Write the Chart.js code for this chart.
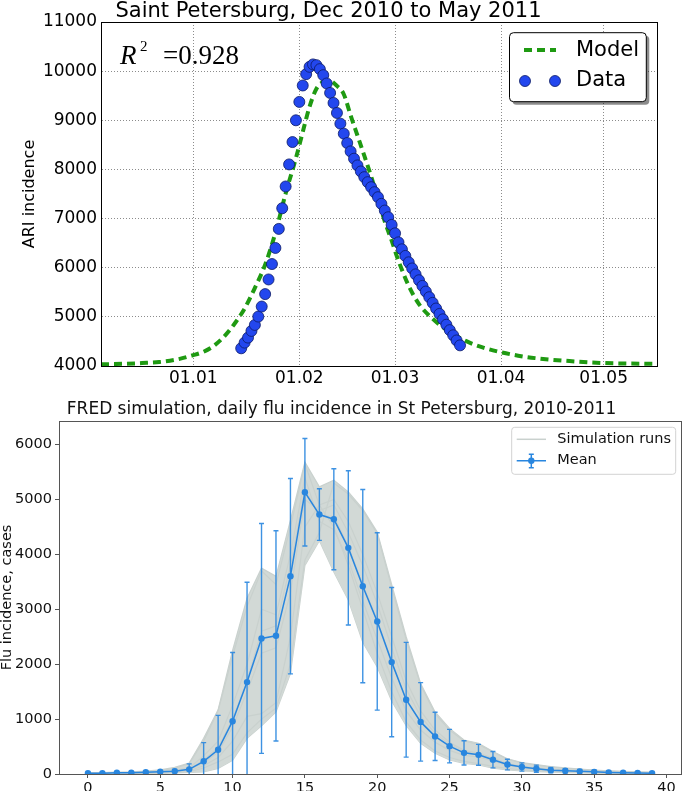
<!DOCTYPE html>
<html lang="en">
<head>
<meta charset="utf-8">
<title>ARI / FRED</title>
<script src="https://cdn.jsdelivr.net/npm/chart.js@4.4.1/dist/chart.umd.min.js"></script>
<style>
  body { margin: 0; background: #fff; }
  canvas { position: absolute; left: 0; }
  #grafico-topo { top: 0; }
  #grafico-fred { top: 388px; }
</style>
</head>
<body>
<canvas id="grafico-topo" width="685" height="388"></canvas>
<canvas id="grafico-fred" width="685" height="403"></canvas>
<script>
// ---- painel de cima (dias contados a partir de 01.01.2011) ----
const diasTicks = [0, 31, 59, 90, 120];
const rotulosDatas = ['01.01', '01.02', '01.03', '01.04', '01.05'];

const modeloDias = [-27, -20, -15, -10, -5, 0, 3, 6, 9, 12, 15, 18, 21, 24, 27, 30, 32, 34, 36, 38, 40, 42, 44, 46, 48,
  50, 52, 54, 56, 58, 60, 63, 66, 70, 75, 80, 85, 90, 95, 100, 110, 120, 135.6];
const modeloValores = [4035, 4045, 4060, 4080, 4130, 4220, 4290, 4410, 4600, 4855, 5170, 5590, 6060, 6710, 7510, 8230, 8760, 9280, 9640, 9780, 9800, 9700, 9530, 9100, 8690,
  8280, 7860, 7400, 6940, 6550, 6140, 5630, 5260, 4960, 4690, 4500, 4370, 4280, 4210, 4160, 4100, 4060, 4045];

const dadosDiaInicial = 14; // primeiro ponto observado, um por dia
const dadosValores = [4360, 4476, 4578, 4714, 4836, 5006, 5210, 5463, 5761, 6075, 6402, 6790, 7210, 7653, 8102, 8557,
  9000, 9374, 9708, 9939, 10088, 10137, 10122, 10041, 9918, 9749, 9557, 9353, 9149, 8932, 8728, 8537, 8367, 8218,
  8082, 7959, 7843, 7741, 7639, 7537, 7435, 7300, 7163, 7027, 6871, 6700, 6516, 6375, 6240, 6110, 5985, 5865, 5745,
  5630, 5515, 5400, 5285, 5170, 5060, 4950, 4840, 4730, 4625, 4520, 4420];

// ---- painel de baixo: simulacao FRED ----
const dias = [0, 1, 2, 3, 4, 5, 6, 7, 8, 9, 10, 11, 12, 13, 14, 15, 16, 17, 18, 19,
  20, 21, 22, 23, 24, 25, 26, 27, 28, 29, 30, 31, 32, 33, 34, 35, 36, 37, 38, 39];
const ticksCasos = [0, 1000, 2000, 3000, 4000, 5000, 6000];
const mediaCasos = [13, 13, 24, 24, 33, 42, 52, 85, 231, 442, 962, 1674, 2469, 2517, 3603, 5132, 4726, 4641, 4119, 3421,
  2779, 2038, 1353, 949, 685, 507, 385, 349, 261, 173, 127, 97, 70, 58, 48, 39, 28, 22, 18, 15];
const erroCasos = [8, 8, 10, 10, 14, 20, 30, 100, 340, 625, 1250, 1820, 2093, 1915, 1780, 980, 470, 920, 1405, 1760,
  1615, 1360, 1045, 715, 440, 305, 220, 190, 150, 97, 75, 65, 50, 40, 35, 30, 20, 15, 12, 10];

// faixa ocupada pelas rodadas (envelope)
const rodadasMax = [25, 25, 35, 40, 55, 75, 120, 200, 650, 1170, 2250, 3200, 3750, 3600, 4620, 5680, 5230, 5350, 5140, 4830,
  4410, 3450, 2500, 1650, 1130, 830, 620, 560, 410, 275, 210, 170, 135, 110, 90, 72, 58, 48, 40, 32];
const rodadasMin = [0, 0, 5, 5, 8, 12, 18, 28, 40, 100, 250, 650, 880, 1130, 1830, 3800, 4250, 3680, 3170, 2400,
  1950, 1330, 880, 560, 380, 255, 195, 165, 105, 73, 55, 45, 35, 25, 20, 15, 10, 8, 5, 5];
// algumas rodadas individuais
const rodadaCedo = [15, 18, 25, 30, 45, 60, 100, 190, 600, 1150, 2150, 3050, 3700, 3450, 4500, 5650, 4900, 4500, 3800, 3000,
  2200, 1500, 950, 620, 420, 300, 230, 190, 140, 100, 75, 60, 48, 38, 30, 24, 18, 14, 10, 8];
const rodadaTarde = [0, 3, 6, 8, 12, 20, 30, 45, 110, 220, 360, 750, 1000, 1200, 2000, 3900, 4400, 5300, 5100, 4800,
  4380, 3400, 2450, 1620, 1100, 800, 600, 540, 400, 270, 200, 160, 125, 100, 85, 68, 55, 45, 36, 30];
const rodadaMeio1 = [8, 10, 15, 20, 28, 40, 55, 90, 260, 480, 1000, 1700, 2600, 2700, 3800, 5200, 4700, 4700, 4150, 3450,
  2800, 2050, 1350, 940, 680, 500, 390, 350, 270, 175, 130, 100, 78, 65, 52, 42, 32, 25, 20, 15];
const rodadaMeio2 = [5, 8, 12, 18, 25, 35, 50, 80, 200, 400, 850, 1500, 2200, 2300, 3300, 5000, 4800, 4900, 4400, 3800,
  3100, 2300, 1550, 1050, 740, 540, 410, 360, 280, 180, 135, 105, 82, 68, 55, 44, 34, 26, 20, 16];
const rodadaMeio3 = [10, 12, 18, 24, 32, 45, 65, 110, 330, 600, 1250, 2000, 3000, 2900, 4000, 5400, 4600, 4450, 3900, 3150,
  2450, 1750, 1150, 800, 580, 430, 340, 310, 240, 150, 115, 90, 70, 58, 46, 36, 28, 22, 17, 13];
const rodadaBaixa = [3, 5, 8, 12, 18, 25, 40, 60, 150, 300, 600, 1050, 1100, 1300, 2500, 4500, 4900, 5000, 4600, 4000,
  3300, 2500, 1700, 1150, 800, 580, 430, 380, 290, 190, 140, 110, 85, 70, 56, 45, 35, 27, 21, 17];

const fonte = 'DejaVu Sans';
const corVerde = '#1f9a12';
const corAzul = '#2347ee';
const corMedia = '#2886df';
const corRodada = '#c9d1ce';

Chart.defaults.font.family = fonte;

function pares(xs, ys) {
  return ys.map((v, i) => ({ x: xs[i], y: v }));
}

// moldura em volta da area do grafico
const moldura = {
  id: 'moldura',
  afterDraw(chart, args, opts) {
    const { ctx, chartArea: a } = chart;
    ctx.save();
    ctx.strokeStyle = opts.cor;
    ctx.lineWidth = 1;
    ctx.strokeRect(a.left + 0.5, a.top + 0.5, a.right - a.left, a.bottom - a.top);
    ctx.restore();
  }
};

// texto R^2 e legenda do painel de cima
const extrasTopo = {
  id: 'extrasTopo',
  afterDraw(chart) {
    const { ctx, chartArea: a } = chart;
    ctx.save();
    ctx.fillStyle = '#000';
    ctx.textBaseline = 'alphabetic';
    ctx.font = 'italic 27px "Liberation Serif"';
    ctx.fillText('R', a.left + 19, a.top + 42);
    ctx.font = '15px "Liberation Serif"';
    ctx.fillText('2', a.left + 39, a.top + 29);
    ctx.font = '27px "Liberation Serif"';
    ctx.fillText('=0.928', a.left + 62, a.top + 42);

    // caixa da legenda com sombra
    const bx = 509.5, by = 32.7, bw = 136.8, bh = 69;
    ctx.fillStyle = 'rgba(0,0,0,0.45)';
    ctx.beginPath();
    ctx.roundRect(bx + 3, by + 3, bw, bh, 4);
    ctx.fill();
    ctx.fillStyle = '#fff';
    ctx.strokeStyle = '#000';
    ctx.lineWidth = 1;
    ctx.beginPath();
    ctx.roundRect(bx, by, bw, bh, 4);
    ctx.fill();
    ctx.stroke();

    ctx.strokeStyle = corVerde;
    ctx.lineWidth = 4;
    ctx.setLineDash([8, 5]);
    ctx.beginPath();
    ctx.moveTo(524, 50);
    ctx.lineTo(556, 50);
    ctx.stroke();
    ctx.setLineDash([]);

    ctx.fillStyle = corAzul;
    ctx.strokeStyle = '#0b1a66';
    ctx.lineWidth = 0.8;
    [525, 555].forEach(x => {
      ctx.beginPath();
      ctx.arc(x, 81, 5.5, 0, Math.PI * 2);
      ctx.fill();
      ctx.stroke();
    });

    ctx.fillStyle = '#000';
    ctx.font = '21px "' + fonte + '"';
    ctx.textBaseline = 'middle';
    ctx.fillText('Model', 576, 51);
    ctx.fillText('Data', 576, 81);
    ctx.restore();
  }
};

// barras de erro da media, desenhadas com as escalas do grafico
const barrasErro = {
  id: 'barrasErro',
  beforeDatasetDraw(chart, args) {
    const ds = chart.data.datasets[args.index];
    if (!ds.erros) return;
    const { ctx, chartArea: a, scales: { x, y } } = chart;
    ctx.save();
    ctx.beginPath();
    ctx.rect(a.left, a.top, a.right - a.left, a.bottom - a.top);
    ctx.clip();
    ctx.strokeStyle = 'rgba(40,134,223,0.9)';
    ctx.lineWidth = 1.4;
    ds.data.forEach((p, i) => {
      const e = ds.erros[i];
      const px = x.getPixelForValue(p.x);
      const yTop = y.getPixelForValue(p.y + e);
      const yBot = y.getPixelForValue(p.y - e);
      ctx.beginPath();
      ctx.moveTo(px, yTop); ctx.lineTo(px, yBot);
      ctx.moveTo(px - 2.5, yTop); ctx.lineTo(px + 2.5, yTop);
      ctx.moveTo(px - 2.5, yBot); ctx.lineTo(px + 2.5, yBot);
      ctx.stroke();
    });
    ctx.restore();
  }
};

// legenda do painel de baixo
const legendaFred = {
  id: 'legendaFred',
  afterDraw(chart) {
    const { ctx } = chart;
    const bx = 511.7, by = 39.3, bw = 164, bh = 47;
    ctx.save();
    ctx.fillStyle = 'rgba(255,255,255,0.85)';
    ctx.strokeStyle = '#d2d2d2';
    ctx.lineWidth = 1;
    ctx.beginPath();
    ctx.roundRect(bx, by, bw, bh, 3);
    ctx.fill();
    ctx.stroke();

    ctx.strokeStyle = corRodada;
    ctx.lineWidth = 1.5;
    ctx.beginPath();
    ctx.moveTo(516.7, 51.3); ctx.lineTo(546, 51.3);
    ctx.stroke();

    ctx.strokeStyle = corMedia;
    ctx.fillStyle = corMedia;
    ctx.beginPath();
    ctx.moveTo(516.7, 72.7); ctx.lineTo(546, 72.7);
    ctx.moveTo(531.3, 66.3); ctx.lineTo(531.3, 79.7);
    ctx.moveTo(528.8, 66.3); ctx.lineTo(533.8, 66.3);
    ctx.moveTo(528.8, 79.7); ctx.lineTo(533.8, 79.7);
    ctx.stroke();
    ctx.beginPath();
    ctx.arc(531.3, 72.7, 3.2, 0, Math.PI * 2);
    ctx.fill();

    ctx.fillStyle = '#111';
    ctx.font = '14.5px "' + fonte + '"';
    ctx.textBaseline = 'middle';
    ctx.fillText('Simulation runs', 557.3, 51.3);
    ctx.fillText('Mean', 557.3, 72.7);
    ctx.restore();
  }
};

// ---------- grafico de cima ----------
const pontosDados = dadosValores.map((v, i) => ({ x: dadosDiaInicial + i, y: v }));

new Chart(document.getElementById('grafico-topo'), {
  type: 'scatter',
  data: {
    datasets: [
      {
        label: 'Data',
        data: pontosDados,
        showLine: false,
        pointRadius: 5.5,
        pointBackgroundColor: corAzul,
        pointBorderColor: '#0b1a66',
        pointBorderWidth: 0.8,
        order: 1
      },
      {
        label: 'Model',
        data: pares(modeloDias, modeloValores),
        showLine: true,
        borderColor: corVerde,
        borderWidth: 4,
        borderDash: [8, 5],
        pointRadius: 0,
        cubicInterpolationMode: 'monotone',
        order: 2
      }
    ]
  },
  options: {
    responsive: false,
    animation: false,
    layout: { padding: { left: 0, top: 0, right: 28, bottom: 0 } },
    plugins: {
      legend: { display: false },
      tooltip: { enabled: false },
      title: {
        display: true,
        text: 'Saint Petersburg, Dec 2010 to May 2011',
        color: '#000',
        font: { size: 21, weight: 'normal', lineHeight: 1 },
        padding: { top: 1, bottom: 0 }
      },
      moldura: { cor: '#000' }
    },
    scales: {
      x: {
        type: 'linear',
        min: -27,
        max: 135.6,
        afterBuildTicks: s => { s.ticks = diasTicks.map(v => ({ value: v })); },
        afterFit: s => { s.height = 22; },
        ticks: {
          callback: (v, i) => rotulosDatas[i],
          color: '#000',
          font: { size: 17 },
          padding: 2,
          maxRotation: 0,
          autoSkip: false
        },
        grid: { color: 'rgba(0,0,0,0.45)', lineWidth: 1, drawTicks: false },
        border: { display: true, color: '#000', dash: [1, 2] }
      },
      y: {
        min: 4000,
        max: 11000,
        afterFit: s => { s.width = 101; },
        ticks: { stepSize: 1000, color: '#000', font: { size: 17 }, padding: 4, callback: v => String(v) },
        grid: { color: 'rgba(0,0,0,0.45)', lineWidth: 1, drawTicks: false },
        border: { display: true, color: '#000', dash: [1, 2] },
        title: {
          display: true,
          text: 'ARI incidence',
          color: '#000',
          font: { size: 16, lineHeight: 1 },
          padding: { top: 22, bottom: 0 }
        }
      }
    }
  },
  plugins: [moldura, extrasTopo]
});

// ---------- grafico de baixo ----------
function rodada(valores) {
  return {
    data: pares(dias, valores),
    showLine: true,
    borderColor: corRodada,
    borderWidth: 1.2,
    pointRadius: 0,
    order: 5
  };
}

new Chart(document.getElementById('grafico-fred'), {
  type: 'scatter',
  data: {
    datasets: [
      { data: pares(dias, rodadasMin), showLine: true, borderColor: corRodada, borderWidth: 1.2, pointRadius: 0, order: 8 },
      {
        data: pares(dias, rodadasMax), showLine: true, borderColor: corRodada, borderWidth: 1.2, pointRadius: 0,
        fill: '-1', backgroundColor: '#d2d9d6', order: 7
      },
      rodada(rodadaCedo),
      rodada(rodadaTarde),
      rodada(rodadaMeio1),
      rodada(rodadaMeio2),
      rodada(rodadaMeio3),
      rodada(rodadaBaixa),
      {
        label: 'Mean',
        data: pares(dias, mediaCasos),
        erros: erroCasos,
        showLine: true,
        borderColor: corMedia,
        borderWidth: 1.5,
        pointRadius: 3.2,
        pointBackgroundColor: corMedia,
        pointBorderColor: corMedia,
        pointBorderWidth: 0,
        order: 0
      }
    ]
  },
  options: {
    responsive: false,
    animation: false,
    layout: { padding: { left: 0, top: 0, right: 2, bottom: 0 } },
    plugins: {
      legend: { display: false },
      tooltip: { enabled: false },
      title: {
        display: true,
        text: 'FRED simulation, daily flu incidence in St Petersburg, 2010-2011',
        color: '#111',
        font: { size: 17, weight: 'normal', lineHeight: 1 },
        padding: { top: 13.3, bottom: 2.7 }
      },
      moldura: { cor: '#555' }
    },
    scales: {
      x: {
        type: 'linear',
        min: -2,
        max: 41,
        afterFit: s => { s.height = 17; },
        ticks: { stepSize: 5, includeBounds: false, color: '#111', font: { size: 14.5 }, padding: 1.5, maxRotation: 0 },
        grid: { drawOnChartArea: false, drawTicks: true, tickLength: 4, tickColor: '#555' },
        border: { display: true, color: '#555' }
      },
      y: {
        min: 0,
        max: 6430,
        afterBuildTicks: s => { s.ticks = ticksCasos.map(v => ({ value: v })); },
        afterFit: s => { s.width = 59; },
        ticks: { color: '#111', font: { size: 14.5 }, padding: 3, callback: v => String(v) },
        grid: { drawOnChartArea: false, drawTicks: true, tickLength: 4, tickColor: '#555' },
        border: { display: true, color: '#555' },
        title: {
          display: true,
          text: 'Flu incidence, cases',
          color: '#111',
          font: { size: 14.5, lineHeight: 1 },
          padding: { top: 0, bottom: 0 }
        }
      }
    }
  },
  plugins: [moldura, barrasErro, legendaFred]
});
</script>
</body>
</html>
